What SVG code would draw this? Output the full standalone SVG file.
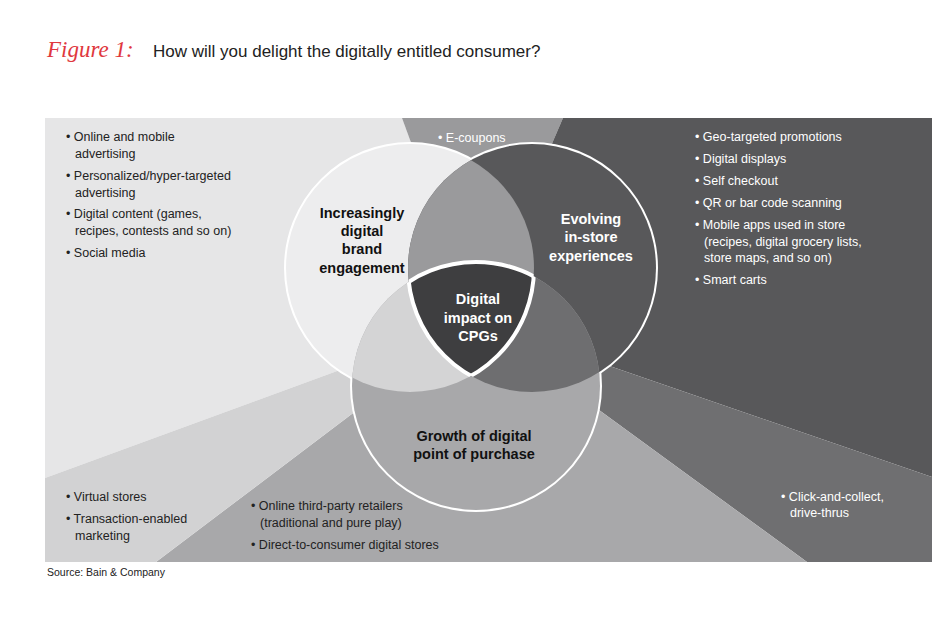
<svg xmlns="http://www.w3.org/2000/svg" width="950" height="627" viewBox="0 0 950 627">
<style>
.t{font-family:"Liberation Sans Narrow","Liberation Sans",Arial,sans-serif;font-size:12.5px}
.d{fill:#222}.w{fill:#fff}
.b{font-family:"Liberation Sans Narrow","Liberation Sans",Arial,sans-serif;font-size:14.5px;font-weight:bold;text-anchor:middle}
</style>
<defs>
<clipPath id="cL"><circle cx="410" cy="268" r="124"/></clipPath>
<clipPath id="cR"><circle cx="532" cy="268" r="124"/></clipPath>
<clipPath id="cB"><circle cx="476" cy="386" r="124"/></clipPath>
</defs>
<rect width="950" height="627" fill="#fff"/>
<text x="47" y="57" font-family="'Liberation Serif',serif" font-style="italic" font-size="23" fill="#e0383e">Figure 1:</text>
<text x="153" y="57" font-family="'Liberation Sans',Arial,sans-serif" font-size="17" fill="#222">How will you delight the digitally entitled consumer?</text>
<g id="background">
<polygon points="45,118 402,118 476,320 45,478" fill="#e6e6e7"/>
<polygon points="402,118 563,118 476,320" fill="#9a9a9c"/>
<polygon points="563,118 932,118 932,477 476,320" fill="#58585a"/>
<polygon points="932,477 932,562 807,562 476,320" fill="#6f6f71"/>
<polygon points="807,562 156,562 476,320" fill="#a8a8aa"/>
<polygon points="156,562 45,562 45,478 476,320" fill="#d2d2d3"/>
</g>
<g id="venn">
<circle cx="410" cy="268" r="124" fill="#ededee" stroke="#fff" stroke-width="4"/>
<circle cx="532" cy="268" r="124" fill="#58585a" stroke="#fff" stroke-width="4"/>
<circle cx="476" cy="386" r="124" fill="#a8a8aa" stroke="#fff" stroke-width="4"/>
<circle cx="410" cy="268" r="124" fill="#ededee"/>
<circle cx="532" cy="268" r="124" fill="#58585a"/>
<circle cx="476" cy="386" r="124" fill="#a8a8aa"/>
<circle cx="532" cy="268" r="124" fill="#9a9a9c" clip-path="url(#cL)"/>
<circle cx="476" cy="386" r="124" fill="#d4d4d5" clip-path="url(#cL)"/>
<circle cx="476" cy="386" r="124" fill="#6e6e70" clip-path="url(#cR)"/>
<g clip-path="url(#cL)"><circle cx="476" cy="386" r="124" fill="#3e3e40" stroke="#fff" stroke-width="4" clip-path="url(#cR)"/></g>
<g clip-path="url(#cB)"><g clip-path="url(#cR)"><circle cx="410" cy="268" r="124" fill="none" stroke="#fff" stroke-width="4"/></g></g>
<g clip-path="url(#cB)"><g clip-path="url(#cL)"><circle cx="532" cy="268" r="124" fill="none" stroke="#fff" stroke-width="4"/></g></g>
</g>
<g id="labels">
<text class="b" fill="#111"><tspan x="362" y="218">Increasingly</tspan><tspan x="362" y="236">digital</tspan><tspan x="362" y="254">brand</tspan><tspan x="362" y="273">engagement</tspan></text>
<text class="b w"><tspan x="591" y="224">Evolving</tspan><tspan x="591" y="242">in-store</tspan><tspan x="591" y="261">experiences</tspan></text>
<text class="b w"><tspan x="478" y="304">Digital</tspan><tspan x="478" y="323">impact on</tspan><tspan x="478" y="341">CPGs</tspan></text>
<text class="b" fill="#111"><tspan x="474" y="441">Growth of digital</tspan><tspan x="474" y="459">point of purchase</tspan></text>
</g>
<g id="lists">
<text class="t d"><tspan x="66" y="141">• Online and mobile</tspan><tspan x="75" y="158">advertising</tspan><tspan x="66" y="180">• Personalized/hyper-targeted</tspan><tspan x="75" y="197">advertising</tspan><tspan x="66" y="218">• Digital content (games,</tspan><tspan x="75" y="235">recipes, contests and so on)</tspan><tspan x="66" y="257">• Social media</tspan></text>
<text class="t w" x="438" y="142">• E-coupons</text>
<text class="t w"><tspan x="695" y="141">• Geo-targeted promotions</tspan><tspan x="695" y="163">• Digital displays</tspan><tspan x="695" y="185">• Self checkout</tspan><tspan x="695" y="207">• QR or bar code scanning</tspan><tspan x="695" y="229">• Mobile apps used in store</tspan><tspan x="704" y="246">(recipes, digital grocery lists,</tspan><tspan x="704" y="262">store maps, and so on)</tspan><tspan x="695" y="284">• Smart carts</tspan></text>
<text class="t d"><tspan x="66" y="501">• Virtual stores</tspan><tspan x="66" y="523">• Transaction-enabled</tspan><tspan x="75" y="540">marketing</tspan></text>
<text class="t d"><tspan x="251" y="510">• Online third-party retailers</tspan><tspan x="260" y="527">(traditional and pure play)</tspan><tspan x="251" y="549">• Direct-to-consumer digital stores</tspan></text>
<text class="t w"><tspan x="781" y="501">• Click-and-collect,</tspan><tspan x="790" y="517">drive-thrus</tspan></text>
</g>
<text x="47" y="576" font-family="'Liberation Sans',Arial,sans-serif" font-size="10.5" fill="#222">Source: Bain &amp; Company</text>
</svg>
